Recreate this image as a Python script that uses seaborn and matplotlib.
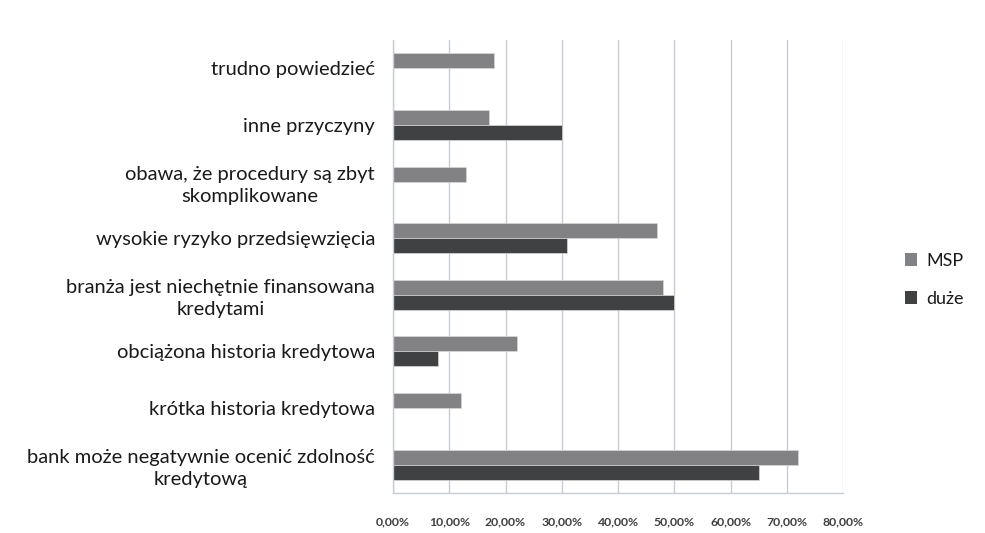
import matplotlib
matplotlib.use("Agg")
import matplotlib.pyplot as plt
from matplotlib.patches import Patch
from matplotlib.ticker import FuncFormatter, MultipleLocator
import numpy as np
import pandas as pd
import seaborn as sns

# Reasons for not applying for a bank loan, by company size
categories = [
    "trudno powiedzieć",
    "inne przyczyny",
    "obawa, że procedury są zbyt\nskomplikowane",
    "wysokie ryzyko przedsięwzięcia",
    "branża jest niechętnie finansowana\nkredytami",
    "obciążona historia kredytowa",
    "krótka historia kredytowa",
    "bank może negatywnie ocenić zdolność\nkredytową",
]
msp = [0.18, 0.17, 0.13, 0.47, 0.48, 0.22, 0.12, 0.72]
duze = [np.nan, 0.30, np.nan, 0.31, 0.50, 0.08, np.nan, 0.65]
series_names = ["MSP", "duże"]
series_colors = ["#818285", "#3f4143"]

df = pd.DataFrame({
    "kategoria": categories * 2,
    "udział": msp + duze,
    "grupa": [series_names[0]] * len(categories) + [series_names[1]] * len(categories),
})

sns.set_theme(style="white")
plt.rcParams["font.family"] = ["Lato", "DejaVu Sans"]

fig = plt.figure(figsize=(9.85, 5.33), dpi=100)
ax = fig.add_axes([0.399, 0.075, 0.457, 0.850])

sns.barplot(
    data=df, y="kategoria", x="udział", hue="grupa",
    order=categories, hue_order=series_names,
    palette=series_colors, orient="h", width=0.53,
    edgecolor="#d8d8d8", linewidth=0.5, ax=ax, legend=False,
)

ax.set_xlim(0, 0.80)
ax.xaxis.set_major_locator(MultipleLocator(0.10))
ax.xaxis.set_major_formatter(FuncFormatter(lambda v, p: f"{v * 100:.2f}%".replace(".", ",")))
ax.set_ylim(len(categories) - 0.5, -0.5)
ax.set_xlabel("")
ax.set_ylabel("")

ax.grid(axis="x", color="#c6cdd6", linewidth=1.0)
ax.set_axisbelow(True)
for side in ["top", "right"]:
    ax.spines[side].set_visible(False)
for side in ["left", "bottom"]:
    ax.spines[side].set_color("#c6cdd6")
    ax.spines[side].set_linewidth(1.0)

ax.tick_params(axis="x", length=0, pad=17, labelsize=8.8, labelcolor="#404040")
ax.tick_params(axis="y", length=0, pad=13, labelsize=14.5, labelcolor="#1a1a1a")
for lbl in ax.get_xticklabels():
    lbl.set_fontweight("bold")
for lbl in ax.get_yticklabels():
    lbl.set_multialignment("center")
    lbl.set_linespacing(1.35)

handles = [Patch(facecolor=c, edgecolor="none") for c in series_colors]
fig.legend(
    handles, series_names, loc="center left", bbox_to_anchor=(0.902, 0.475),
    frameon=False, fontsize=13, handlelength=0.7, handleheight=0.7,
    handletextpad=0.5, labelspacing=1.2, labelcolor="#1a1a1a",
)

fig.savefig("out.png", dpi=100, facecolor="white")
